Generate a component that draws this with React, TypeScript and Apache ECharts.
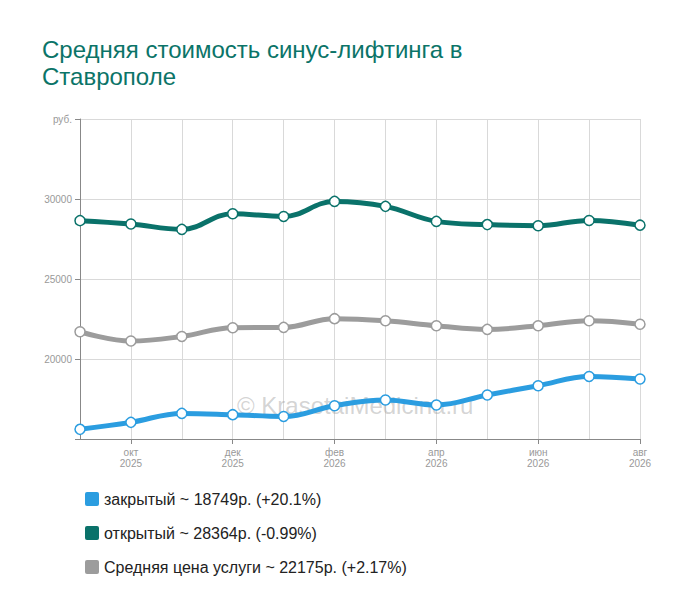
import React, { useEffect, useRef } from "react";
import * as echarts from "echarts";

const months = [
  "сен\n2025", "окт\n2025", "ноя\n2025", "дек\n2025", "янв\n2026", "фев\n2026",
  "мар\n2026", "апр\n2026", "май\n2026", "июн\n2026", "июл\n2026", "авг\n2026",
];
const closedValues = [15604, 16040, 16600, 16520, 16410, 17080, 17440, 17125, 17750, 18330, 18910, 18749];
const openValues = [28648, 28440, 28100, 29080, 28910, 29850, 29540, 28600, 28400, 28330, 28660, 28364];
const avgValues = [21704, 21125, 21410, 21955, 21975, 22520, 22390, 22080, 21850, 22080, 22390, 22175];
const seriesNames = ["закрытый", "открытый", "Средняя цена услуги"];
const legendTexts = [
  "закрытый ~ 18749р. (+20.1%)",
  "открытый ~ 28364р. (-0.99%)",
  "Средняя цена услуги ~ 22175р. (+2.17%)",
];
const colors = ["#2b9de0", "#0a726a", "#9c9c9c"];
const titleText = "Средняя стоимость синус-лифтинга в\nСтаврополе";
const watermark = "© KrasotaiMedicina.ru";

const FONT = "Arial, 'Liberation Sans', sans-serif";
const SQUARE_ICON = "path://M2,0H12A2,2,0,0,1,14,2V12A2,2,0,0,1,12,14H2A2,2,0,0,1,0,12V2A2,2,0,0,1,2,0Z";

export default function App() {
  const ref = useRef<HTMLDivElement>(null);
  useEffect(() => {
    if (!ref.current) return;
    const chart = echarts.init(ref.current, undefined, { renderer: "svg" });
    const everyOther = (i: number) => i % 2 === 1;
    const mk = (name: string, data: number[], color: string) => ({
      name,
      type: "line",
      data,
      smooth: 0.4,
      symbol: "circle",
      symbolSize: 10,
      showSymbol: true,
      lineStyle: { color, width: 5 },
      itemStyle: { color: "#fff", borderColor: color, borderWidth: 1.5 },
      emphasis: { disabled: true },
      z: 3,
    });
    chart.setOption({
      animation: false,
      textStyle: { fontFamily: FONT },
      title: {
        text: titleText,
        left: 42,
        top: 36,
        padding: 0,
        textStyle: { fontSize: 24, fontWeight: "normal", color: "#0b7468", lineHeight: 27, fontFamily: FONT },
      },
      grid: { left: 80, right: 60, top: 119, bottom: 177 },
      xAxis: {
        type: "category",
        data: months,
        boundaryGap: false,
        axisLine: { lineStyle: { color: "#888", width: 1 } },
        axisTick: { show: true, interval: everyOther, length: 5, lineStyle: { color: "#888" } },
        axisLabel: { interval: everyOther, color: "#999", fontSize: 10, lineHeight: 11, margin: 8, fontFamily: FONT },
        splitLine: { show: true, interval: 0, lineStyle: { color: "#d9d9d9", width: 1 } },
      },
      yAxis: {
        type: "value",
        min: 15000,
        max: 35000,
        interval: 5000,
        axisLine: { show: true, lineStyle: { color: "#888", width: 1 } },
        axisTick: { show: true, length: 5, lineStyle: { color: "#888" } },
        axisLabel: {
          color: "#999",
          fontSize: 10,
          margin: 8,
          fontFamily: FONT,
          formatter: (v: number) => (v === 35000 ? "руб." : v === 15000 ? "" : String(v)),
        },
        splitLine: { show: true, lineStyle: { color: "#d9d9d9", width: 1 } },
      },
      legend: {
        orient: "vertical",
        left: 80,
        top: 486,
        itemWidth: 14,
        itemHeight: 14,
        itemGap: 18,
        icon: SQUARE_ICON,
        selectedMode: false,
        data: seriesNames.map((n, i) => ({ name: n, itemStyle: { color: colors[i], borderWidth: 0 } })),
        formatter: (name: string) => legendTexts[seriesNames.indexOf(name)],
        textStyle: { fontSize: 16, color: "#222", fontFamily: FONT, lineHeight: 16 },
      },
      graphic: [
        {
          type: "text",
          left: 237,
          top: 393,
          z: 1,
          style: { text: watermark, fontSize: 24, fill: "rgba(160,160,160,0.45)", fontFamily: FONT },
        },
      ],
      series: [
        mk(seriesNames[0], closedValues, colors[0]),
        mk(seriesNames[1], openValues, colors[1]),
        mk(seriesNames[2], avgValues, colors[2]),
      ],
    });
    return () => chart.dispose();
  }, []);
  return <div ref={ref} style={{ position: "absolute", left: 0, top: 0, width: 700, height: 616 }} />;
}
